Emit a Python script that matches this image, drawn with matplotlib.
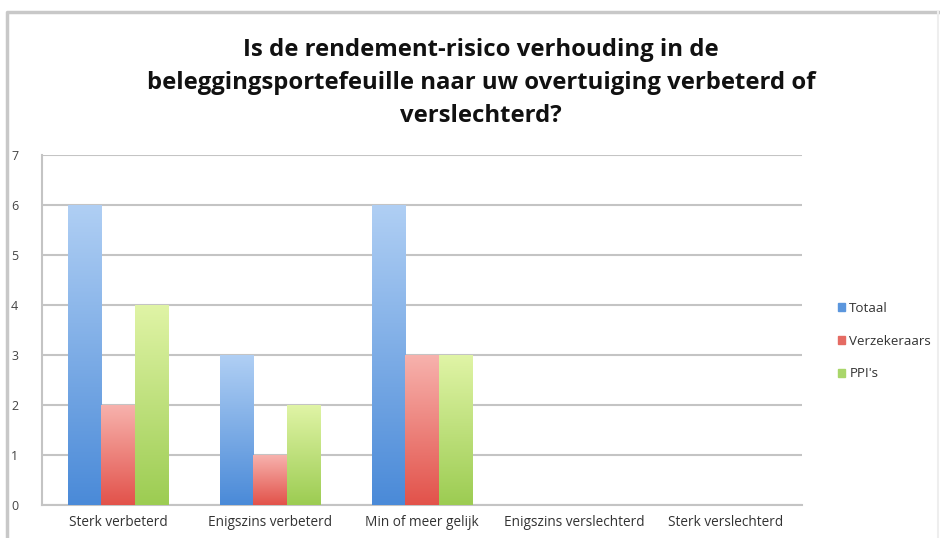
import numpy as np
import matplotlib.pyplot as plt
from matplotlib.colors import LinearSegmentedColormap
from matplotlib.patches import Rectangle
from matplotlib.lines import Line2D

categories = ['Sterk verbeterd', 'Enigszins verbeterd', 'Min of meer gelijk',
              'Enigszins verslechterd', 'Sterk verslechterd']
series = ['Totaal', 'Verzekeraars', "PPI's"]
totaal = [6, 3, 6, 0, 0]
verzekeraars = [2, 1, 3, 0, 0]
ppis = [4, 2, 3, 0, 0]

# (top colour, bottom colour) for the gradient fill
colors = [('#b0cff4', '#4a8ad8'), ('#f7b2ad', '#e2524a'), ('#e0f4a6', '#9ccc52')]
legend_colors = ['#5b96dd', '#e56b63', '#a9d66a']

plt.rcParams['font.family'] = ['Open Sans', 'DejaVu Sans']

fig = plt.figure(figsize=(9.4, 5.38), dpi=100)
ax = fig.add_axes([42 / 940, (538 - 505) / 538, 760 / 940, 350 / 538])

# chart frame: strong top and left, faint right
fig.lines.append(Line2D([7 / 940, 7 / 940, 938 / 940], [0, 1 - 12 / 538, 1 - 12 / 538],
                        transform=fig.transFigure, color='#c8c8c8', lw=2.5))
fig.lines.append(Line2D([938 / 940, 938 / 940], [0, 1 - 12 / 538],
                        transform=fig.transFigure, color='#eeeeee', lw=1.5))

x = np.arange(len(categories))
w = 0.22
grad = np.linspace(1, 0, 256).reshape(-1, 1)
for i, (vals, (top, bot)) in enumerate(zip([totaal, verzekeraars, ppis], colors)):
    bars = ax.bar(x + (i - 1) * w, vals, w, color='none', zorder=3)
    cmap = LinearSegmentedColormap.from_list('g', [bot, top])
    for b in bars:
        h = b.get_height()
        if h <= 0:
            continue
        x0 = b.get_x()
        ax.imshow(grad, extent=(x0, x0 + b.get_width(), 0, h), cmap=cmap,
                  aspect='auto', origin='upper', zorder=3, interpolation='bicubic')

ax.set_xlim(-0.5, len(categories) - 0.5)
ax.set_ylim(0, 7)
ax.set_yticks(range(8))
ax.set_xticks(x)
ax.set_xticklabels(categories, fontsize=9.8, color='#333333')
ax.tick_params(axis='y', labelsize=9, colors='#444444', length=0, pad=17)
ax.tick_params(axis='x', length=0, pad=7)
ax.grid(axis='y', color='#c4c4c4', lw=1.5, zorder=1)
ax.set_axisbelow(True)
for s in ['top', 'right']:
    ax.spines[s].set_visible(False)
for s in ['left', 'bottom']:
    ax.spines[s].set_color('#c4c4c4')
    ax.spines[s].set_linewidth(1.5)

handles = [Rectangle((0, 0), 1, 1, color=c) for c in legend_colors]
fig.legend(handles, series, loc='upper left', bbox_to_anchor=(826 / 940, 1 - 290 / 538),
           frameon=False, fontsize=9.6, handlelength=0.55, handleheight=0.55,
           handletextpad=0.3, labelspacing=1.48, labelcolor='#333333')

fig.text(481 / 940, 1 - 83 / 538,
         'Is de rendement-risico verhouding in de\n'
         'beleggingsportefeuille naar uw overtuiging verbeterd of\n'
         'verslechterd?',
         ha='center', va='center', fontsize=17.2, fontweight='bold',
         linespacing=1.52, color='#111111')

fig.savefig('out.png', dpi=100)
